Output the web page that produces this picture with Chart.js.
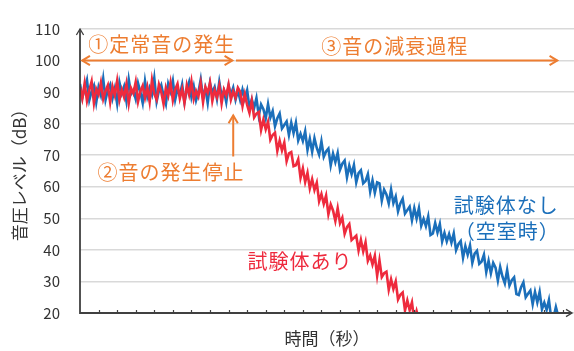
<!DOCTYPE html>
<html lang="ja">
<head>
<meta charset="utf-8">
<title>音圧レベルの減衰</title>
<script src="https://cdn.jsdelivr.net/npm/chart.js@4/dist/chart.umd.min.js"></script>
<style>
  html, body { margin: 0; padding: 0; background: #ffffff; }
  #wrap { width: 574px; height: 351px; }
</style>
</head>
<body>
<div id="wrap"><canvas id="chart" width="574" height="351"></canvas></div>
<script>
// Sampling interval of the level recorder (one x-axis tick = 1 unit)
const sampleStep = 0.125;

// Steady-state sound level while the source is on (dB)
const emptyRoomSteady = [
  92.6, 88.2, 91.0, 93.8, 87.4, 90.2, 92.0, 86.8, 91.6, 89.0,
  94.2, 87.6, 90.8, 92.4, 88.0, 91.2, 86.4, 93.0, 89.6, 91.8,
  87.2, 94.0, 89.4, 90.6, 87.8, 92.8, 90.0, 86.6, 93.4, 88.6,
  91.4, 89.2, 94.4, 87.0, 90.4, 92.2, 88.8, 86.2, 92.6, 90.2,
  93.6, 87.6, 91.0, 89.0, 92.4, 86.8, 90.6, 93.2, 88.4, 91.8,
  87.4, 90.0, 94.0, 88.2, 91.2, 86.6, 92.8, 89.8, 91.6, 87.8,
  93.2, 88.8, 90.4, 86.8, 92.0, 89.2, 91.4, 87.6, 90.6
];
const specimenSteady = [
  91.5, 88.0, 92.8, 87.2, 90.6, 93.4, 86.5, 91.0, 89.2, 93.0,
  87.8, 90.4, 92.2, 86.8, 91.8, 89.0, 93.6, 87.5, 90.8, 88.4,
  92.6, 86.4, 91.2, 89.6, 93.2, 87.0, 90.2, 92.0, 88.2, 91.6,
  86.9, 93.8, 89.4, 87.6, 92.4, 90.0, 86.2, 91.4, 88.8, 93.0,
  87.4, 90.8, 92.6, 88.0, 91.0, 86.6, 92.2, 89.2, 93.4, 87.8,
  90.4, 88.6, 92.8, 86.8, 91.6, 89.8, 93.0, 87.2, 90.6, 88.4,
  92.0, 86.4, 90.8, 89.0, 92.4, 87.6, 90.2, 88.2, 91.4
];

// Decay after the source is stopped (dB)
const emptyRoomDecay = [
  87.5, 90.8, 87.9, 90.6, 85.1, 87.7, 85.0, 88.1, 82.6, 86.1,
  84.6, 81.7, 86.2, 81.9, 84.0, 79.2, 81.7, 83.2, 78.5, 79.6,
  80.7, 76.4, 80.3, 77.0, 80.3, 74.7, 76.8, 74.5, 77.6, 71.7,
  75.2, 71.1, 75.4, 72.3, 70.2, 74.4, 69.5, 71.2, 72.1, 66.8,
  70.5, 67.8, 70.7, 65.4, 67.3, 68.3, 63.0, 66.7, 64.0, 66.9,
  61.4, 64.3, 65.2, 61.1, 61.8, 64.0, 58.5, 62.0, 58.1, 61.4,
  61.1, 55.6, 59.1, 57.6, 54.7, 59.1, 54.8, 56.9, 52.2, 54.7,
  56.2, 51.5, 52.6, 53.7, 49.4, 53.2, 49.9, 53.2, 47.7, 49.8,
  47.5, 50.6, 44.7, 45.2, 48.5, 45.5, 48.2, 42.7, 45.4, 42.7,
  45.0, 42.3, 45.2, 39.9, 41.8, 42.8, 37.5, 41.2, 38.5, 41.4,
  35.9, 38.8, 39.7, 35.6, 36.3, 38.5, 33.0, 36.5, 32.6, 35.9,
  34.4, 30.3, 34.6, 31.5, 29.4, 33.6, 28.7, 30.4, 31.3, 26.0,
  25.7, 28.2, 29.7, 25.0, 26.1, 27.1, 22.8, 26.7, 23.4, 26.7,
  21.2, 23.3, 21.0, 24.1, 18.2, 18.6, 21.9, 19.0
];
const specimenDecay = [
  90.1, 85.6, 89.4, 85.9, 83.4, 87.3, 82.0, 83.2, 83.7, 78.0,
  81.3, 78.2, 80.6, 74.9, 76.4, 77.1, 71.4, 74.6, 71.5, 74.0,
  68.1, 70.6, 71.0, 66.5, 66.8, 68.7, 62.8, 65.8, 61.5, 64.4,
  59.5, 62.4, 59.0, 61.3, 55.4, 57.7, 54.6, 57.2, 51.3, 54.4,
  52.5, 49.2, 53.2, 48.5, 50.2, 45.1, 47.2, 48.2, 43.1, 43.8,
  44.5, 39.8, 43.2, 39.5, 42.4, 36.5, 38.2, 35.4, 38.1, 31.8,
  36.7, 31.4, 32.6, 33.1, 27.4, 30.7, 27.6, 30.0, 24.3, 25.8,
  26.5, 20.8, 24.0, 20.9, 23.4, 17.5, 20.6, 17.8
];

// Axis ranges and tick values
const levelTicks = [20, 30, 40, 50, 60, 70, 80, 90, 100, 110];
const timeMax = 26.6;
const timeTicks = [1, 2, 3, 4, 5, 6, 7, 8, 9, 10, 11, 12, 13, 14, 15, 16, 17, 18, 19, 20, 21, 22, 23, 24, 25, 26];

// Text
const seriesNames = ['試験体なし（空室時）', '試験体あり'];
const yTitle = '音圧レベル（dB）';
const xTitle = '時間（秒）';

const toPoints = (values) => values.map((v, i) => ({ x: i * sampleStep, y: v }));

const COLORS = {
  blue: '#1b6fba',
  red: '#ee2a3d',
  orange: '#ed7d31',
  axis: '#404040',
  grid: '#d9d9d9',
  text: '#333333'
};
const JP = '"Noto Sans CJK JP", "Noto Sans", sans-serif';

// Arrows and captions placed in data coordinates
const notes = {
  arrows: [
    { from: [0.12, 100], to: [8.2, 100], both: true },
    { from: [8.4, 100], to: [25.7, 100], both: false },
    { from: [8.25, 69.6], to: [8.25, 82.6], both: false }
  ],
  labels: [
    { text: '①定常音の発生', at: [4.4, 105.1], color: COLORS.orange },
    { text: '③音の減衰過程', at: [16.95, 104.6], color: COLORS.orange },
    { text: '②音の発生停止', at: [4.9, 64.4], color: COLORS.orange },
    { text: '試験体あり', at: [11.85, 36.2], color: COLORS.red },
    { text: '試験体なし', at: [22.95, 54.0], color: COLORS.blue },
    { text: '（空室時）', at: [23.0, 45.8], color: COLORS.blue }
  ]
};

function chevron(ctx, tipX, tipY, angle, size) {
  ctx.beginPath();
  ctx.moveTo(tipX + Math.cos(angle + 2.6) * size, tipY + Math.sin(angle + 2.6) * size);
  ctx.lineTo(tipX, tipY);
  ctx.lineTo(tipX + Math.cos(angle - 2.6) * size, tipY + Math.sin(angle - 2.6) * size);
  ctx.stroke();
}

const axesAndNotes = {
  id: 'axesAndNotes',
  afterDatasetsDraw(chart) {
    const { ctx, chartArea } = chart;
    const xs = chart.scales.x, ys = chart.scales.y;
    const left = chartArea.left, bottom = chartArea.bottom, top = chartArea.top, right = chartArea.right;
    ctx.save();

    // axis lines with arrow heads
    ctx.strokeStyle = COLORS.axis;
    ctx.lineWidth = 1.8;
    ctx.lineCap = 'butt';
    ctx.beginPath();
    ctx.moveTo(left, bottom);
    ctx.lineTo(left, top);
    ctx.moveTo(left - 0.9, bottom);
    ctx.lineTo(right - 2, bottom);
    ctx.stroke();
    ctx.lineWidth = 1.3;
    chevron(ctx, left, top, -Math.PI / 2, 7);
    chevron(ctx, right - 2, bottom, 0, 7);

    // inside tick marks on the time axis
    ctx.lineWidth = 1.2;
    ctx.beginPath();
    timeTicks.forEach((t) => {
      const px = Math.round(xs.getPixelForValue(t)) + 0.5;
      ctx.moveTo(px, bottom);
      ctx.lineTo(px, bottom - 3);
    });
    ctx.stroke();

    // annotation arrows
    ctx.strokeStyle = COLORS.orange;
    ctx.lineWidth = 2;
    notes.arrows.forEach((a) => {
      const x1 = xs.getPixelForValue(a.from[0]), y1 = ys.getPixelForValue(a.from[1]);
      const x2 = xs.getPixelForValue(a.to[0]), y2 = ys.getPixelForValue(a.to[1]);
      ctx.beginPath();
      ctx.moveTo(x1, y1);
      ctx.lineTo(x2, y2);
      ctx.stroke();
      const ang = Math.atan2(y2 - y1, x2 - x1);
      chevron(ctx, x2, y2, ang, 9);
      if (a.both) chevron(ctx, x1, y1, ang + Math.PI, 9);
    });

    // captions
    ctx.font = '20px ' + JP;
    ctx.textAlign = 'center';
    ctx.textBaseline = 'middle';
    if ('letterSpacing' in ctx) ctx.letterSpacing = '1px';
    notes.labels.forEach((l) => {
      ctx.fillStyle = l.color;
      ctx.fillText(l.text, xs.getPixelForValue(l.at[0]), ys.getPixelForValue(l.at[1]));
    });
    ctx.restore();
  }
};

new Chart(document.getElementById('chart'), {
  type: 'line',
  data: {
    datasets: [
      {
        label: seriesNames[0],
        data: toPoints(emptyRoomSteady.concat(emptyRoomDecay)),
        borderColor: COLORS.blue,
        borderWidth: 2.6,
        pointRadius: 0,
        tension: 0,
        order: 2
      },
      {
        label: seriesNames[1],
        data: toPoints(specimenSteady.concat(specimenDecay)),
        borderColor: COLORS.red,
        borderWidth: 2.6,
        pointRadius: 0,
        tension: 0,
        order: 1
      }
    ]
  },
  options: {
    responsive: false,
    animation: false,
    devicePixelRatio: 1,
    layout: { padding: { top: 17, right: 0, left: 0, bottom: 0 } },
    plugins: { legend: { display: false }, tooltip: { enabled: false } },
    scales: {
      x: {
        type: 'linear',
        min: 0,
        max: timeMax,
        ticks: { display: false },
        grid: { display: false },
        border: { display: false },
        title: {
          display: true,
          text: xTitle,
          color: COLORS.text,
          font: { family: JP, size: 17 },
          padding: { top: 0, bottom: 2.5 }
        },
        afterFit(scale) { scale.height = 38; }
      },
      y: {
        min: 20,
        max: 110,
        afterBuildTicks(scale) { scale.ticks = levelTicks.map((v) => ({ value: v })); },
        ticks: {
          color: COLORS.text,
          font: { family: JP, size: 15 },
          padding: 20
        },
        grid: { color: COLORS.grid, lineWidth: 1.5, drawTicks: false },
        border: { display: false },
        title: {
          display: true,
          text: yTitle,
          color: COLORS.text,
          font: { family: JP, size: 17 },
          padding: { top: 9.5, bottom: 0 }
        },
        afterFit(scale) { scale.width = 80; }
      }
    }
  },
  plugins: [axesAndNotes]
});
</script>
</body>
</html>
